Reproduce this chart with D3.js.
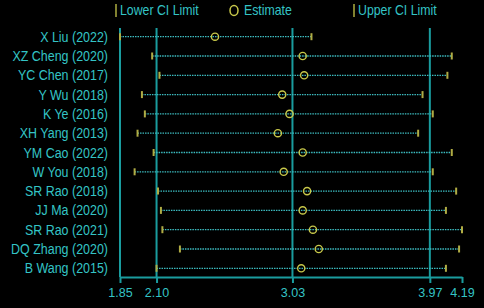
<!DOCTYPE html>
<html>
<head>
<meta charset="utf-8">
<script src="https://cdn.jsdelivr.net/npm/d3@7"></script>
<style>
  html, body { margin: 0; padding: 0; background: #000; }
  svg { display: block; }
  text { font-family: 'Liberation Sans', Arial, sans-serif; }
</style>
</head>
<body>
<svg id="svg_forest" width="484" height="308"></svg>
<script>
const studies = ['X Liu (2022)', 'XZ Cheng (2020)', 'YC Chen (2017)', 'Y Wu (2018)', 'K Ye (2016)',
  'XH Yang (2013)', 'YM Cao (2022)', 'W You (2018)', 'SR Rao (2018)', 'JJ Ma (2020)',
  'SR Rao (2021)', 'DQ Zhang (2020)', 'B Wang (2015)']
const lower = [1.85, 2.07, 2.12, 2.00, 2.02, 1.97, 2.08, 1.95, 2.11, 2.13, 2.14, 2.26, 2.10]
const estimate = [2.50, 3.10, 3.11, 2.96, 3.01, 2.93, 3.10, 2.97, 3.13, 3.10, 3.17, 3.21, 3.09]
const upper = [3.16, 4.12, 4.09, 3.92, 3.99, 3.89, 4.12, 3.99, 4.15, 4.08, 4.19, 4.17, 4.08]
const tickValues = [1.85, 2.10, 3.03, 3.97, 4.19]
const gridValues = [1.85, 2.10, 3.03, 3.97]

const textColor = '#34c4c6'
const gridColor = '#1a9c9e'
const dotColor = '#3cbcc0'
const markColor = '#c8c84a'
const capColor = '#b0ac44'

const svg = d3.select('#svg_forest')

const rows = studies.map((s, i) => ({ study: s, lo: lower[i], est: estimate[i], hi: upper[i] }))

const xScale = d3.scaleLinear()
  .domain([1.85, 4.19])
  .range([120, 462])

const yScale = d3.scalePoint()
  .domain(studies)
  .range([36.7, 268.3])

const axisY = 277

// legend
const legend = svg.append('g')
const legendItems = [
  { x: 116, label: 'Lower CI Limit', type: 'bar', gap: 4 },
  { x: 234, label: 'Estimate', type: 'circle', gap: 10 },
  { x: 354, label: 'Upper CI Limit', type: 'bar', gap: 4 }
]
legendItems.forEach(d => {
  if (d.type === 'bar') {
    legend.append('line')
      .attr('x1', d.x).attr('x2', d.x)
      .attr('y1', 4).attr('y2', 17)
      .attr('stroke', markColor)
      .attr('stroke-width', 1.3)
  } else {
    legend.append('ellipse')
      .attr('cx', d.x).attr('cy', 10.5)
      .attr('rx', 4).attr('ry', 5)
      .attr('fill', 'none')
      .attr('stroke', markColor)
      .attr('stroke-width', 1.5)
  }
  legend.append('text')
    .attr('transform', `translate(${d.x + d.gap}, 15) scale(0.88, 1)`)
    .attr('fill', textColor)
    .attr('font-size', 14)
    .text(d.label)
})

// grid lines
svg.append('g')
  .selectAll('line')
  .data(gridValues)
  .enter()
  .append('line')
  .attr('x1', d => xScale(d))
  .attr('x2', d => xScale(d))
  .attr('y1', 28)
  .attr('y2', axisY)
  .attr('stroke', gridColor)
  .attr('stroke-width', 2)

// bottom axis
const bottomAxis = d3.axisBottom(xScale)
  .tickValues(tickValues)
  .tickFormat(d3.format('.2f'))
  .tickSize(6)
  .tickSizeOuter(0)

const axisG = svg.append('g')
  .attr('transform', `translate(0, ${axisY})`)
  .call(bottomAxis)

axisG.select('.domain')
  .attr('stroke', gridColor)
  .attr('stroke-width', 2)
axisG.selectAll('.tick line')
  .attr('stroke', gridColor)
  .attr('stroke-width', 2)
axisG.selectAll('.tick text')
  .attr('fill', textColor)
  .attr('font-size', 12.5)
  .attr('font-family', "'Liberation Sans', Arial, sans-serif")
  .attr('y', 11)

// study labels
svg.append('g')
  .selectAll('text')
  .data(rows)
  .enter()
  .append('text')
  .attr('transform', d => `translate(108, ${yScale(d.study) + 5}) scale(0.89, 1)`)
  .attr('text-anchor', 'end')
  .attr('fill', textColor)
  .attr('font-size', 14)
  .text(d => d.study)

const rowG = svg.append('g')

// CI dotted lines
rowG.selectAll('.ci')
  .data(rows)
  .enter()
  .append('line')
  .attr('class', 'ci')
  .attr('x1', d => xScale(d.lo))
  .attr('x2', d => xScale(d.hi))
  .attr('y1', d => yScale(d.study))
  .attr('y2', d => yScale(d.study))
  .attr('stroke', dotColor)
  .attr('stroke-width', 1.3)
  .attr('stroke-dasharray', '1.5,1')

// caps
rowG.selectAll('.capLo')
  .data(rows)
  .enter()
  .append('line')
  .attr('class', 'capLo')
  .attr('x1', d => xScale(d.lo))
  .attr('x2', d => xScale(d.lo))
  .attr('y1', d => yScale(d.study) - 3.5)
  .attr('y2', d => yScale(d.study) + 3.5)
  .attr('stroke', capColor)
  .attr('stroke-width', 2)

rowG.selectAll('.capHi')
  .data(rows)
  .enter()
  .append('line')
  .attr('class', 'capHi')
  .attr('x1', d => xScale(d.hi))
  .attr('x2', d => xScale(d.hi))
  .attr('y1', d => yScale(d.study) - 3.5)
  .attr('y2', d => yScale(d.study) + 3.5)
  .attr('stroke', capColor)
  .attr('stroke-width', 2)

// estimates
rowG.selectAll('circle')
  .data(rows)
  .enter()
  .append('circle')
  .attr('cx', d => xScale(d.est))
  .attr('cy', d => yScale(d.study))
  .attr('r', 3.6)
  .attr('fill', 'none')
  .attr('stroke', markColor)
  .attr('stroke-width', 1.4)
</script>
</body>
</html>
